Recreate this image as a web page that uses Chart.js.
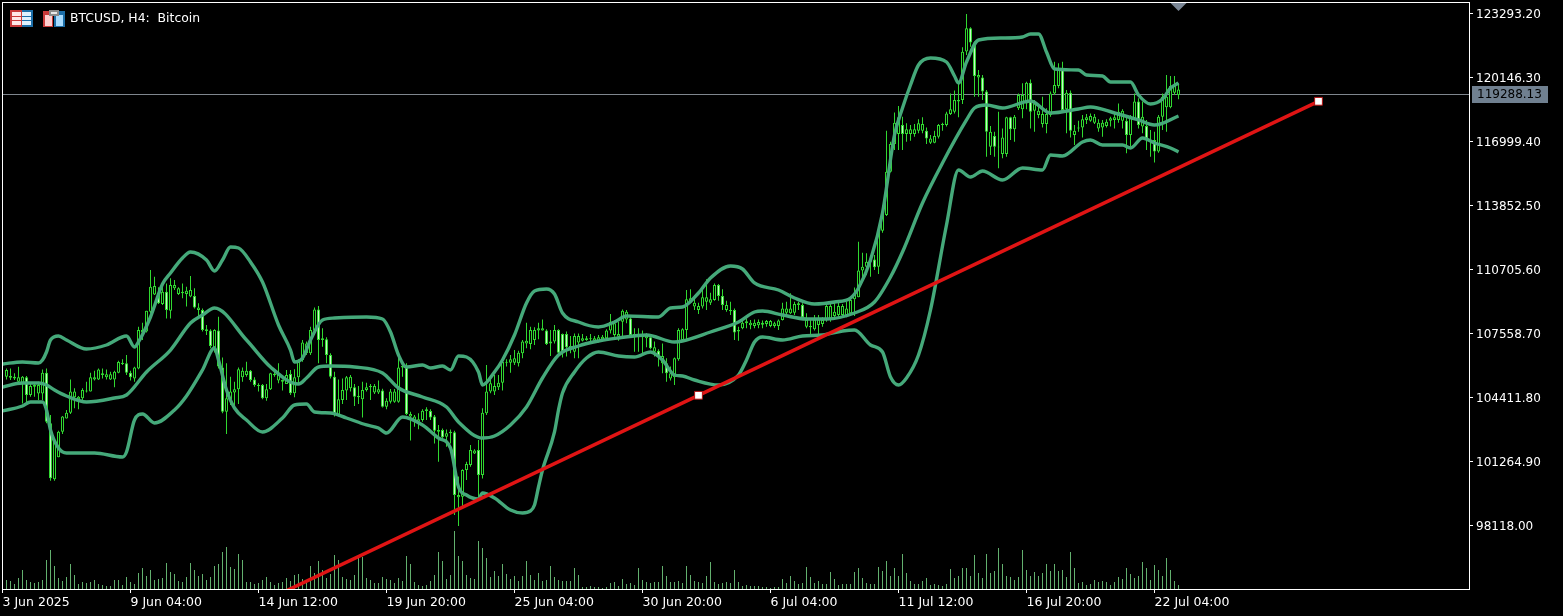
<!DOCTYPE html>
<html>
<head>
<meta charset="utf-8">
<title>BTCUSD, H4: Bitcoin</title>
<script src="https://cdn.jsdelivr.net/npm/chart.js@4"></script>
<style>html,body{margin:0;padding:0;background:#000;overflow:hidden}canvas{display:block}</style>
</head>
<body>
<canvas id="c" width="1563" height="616"></canvas>
<script>
const bodyHigh=[105740,105450,105410,105380,105410,105380,104950,105000,105000,105610,
105610,103120,102300,102710,103450,103640,104680,104680,104430,104760,
104730,105380,105380,105770,105580,105530,105530,105660,106140,106100,
106070,105610,105870,107710,107710,108660,109840,109870,109510,109590,
109590,109920,109920,109760,109590,109640,109680,109380,108820,108690,
107740,107680,107710,107680,105870,104350,104680,104790,105780,105710,
105710,105710,105280,105000,105000,104790,105580,105550,105550,105250,
105500,105550,105380,106230,107090,107050,107710,108720,108720,107300,
107250,106480,105410,104300,104760,105380,105410,104890,104460,104760,
104890,104950,104950,104790,104730,104230,104680,104680,105870,105940,
105870,103580,103450,103320,103740,103810,103730,103450,102790,102790,
102630,102710,102680,99600,100830,101120,101810,101780,101810,103640,
104680,105090,104950,105120,106150,106150,106270,106320,106590,107140,
107180,107710,107710,107790,107790,107680,107140,107710,107710,107510,
107510,106920,107410,107410,107300,107300,107300,107300,107350,107380,
107680,108120,108040,107510,108660,108610,108280,107510,107510,107460,
107410,107350,106860,106690,106430,106070,105580,106320,107710,107740,
109220,109270,109050,108890,109320,109320,109220,109920,109920,109380,
108940,108690,108690,107710,108070,108140,108070,108070,108100,108070,
108150,108150,108040,108170,108770,108770,108770,108990,109020,108940,
108200,107910,108230,108230,108200,108890,108890,108610,108890,108890,
108770,109180,109500,110630,110820,111070,111230,111180,112590,113410,
115490,116850,117900,118170,117790,117580,117580,117580,117870,117840,
117510,117130,117250,117790,117840,118360,118560,119020,119020,121390,
122540,122540,121840,120250,120130,119430,117460,117250,116720,117180,
118170,118170,118200,119260,119260,119870,119870,118850,118490,118330,
118330,119340,119750,120570,120520,119380,119380,117510,117670,118070,
118170,118230,118200,117900,117900,117950,118120,118170,118440,118490,
118000,118170,118940,118940,118200,117740,117050,117050,118200,119180,
119180,119710,119710,119540];
const bodyLow=[105410,105365,105330,105170,105090,104510,104510,104920,104590,104590,
103200,100415,100370,101450,102710,103360,103640,104400,104300,104350,
104680,104680,105280,105280,105500,105380,105280,105280,105610,106040,
105610,105380,105330,105820,107580,107630,108610,109460,109020,108990,
108690,108660,109760,109480,109510,109480,109350,108820,108690,107710,
107660,106920,106860,105910,103690,103690,104300,104630,104790,105380,
105500,105250,105000,104950,104350,104350,104790,105480,105220,105170,
105050,104600,104600,105380,106230,106560,106560,107680,107220,107220,
106480,105410,103530,103530,104270,104730,104840,104430,104400,104300,
104760,104890,104630,104630,103940,103940,104180,104180,104180,105870,
103580,103450,103200,103200,103280,103730,103410,102760,102710,102430,
102460,102630,99600,99480,99510,100830,101070,101640,100580,100580,
103610,104680,104680,104890,105120,106100,106100,106100,106070,106560,
107050,107020,107220,107680,107680,107020,107050,107140,106590,106640,
106860,106760,106640,107090,107180,107220,107250,107180,107135,107250,
107300,107680,107460,107380,108120,108230,107460,107350,107350,107350,
107300,106810,106640,106400,106070,105580,105330,105380,106270,107220,
107710,109050,108860,108690,108860,109100,109050,109180,109380,108940,
108690,108630,107580,107630,107790,108040,107940,107910,107940,107970,
108000,107910,107910,107910,108200,108560,108530,108560,108940,108330,
107870,107840,107740,107950,108000,108200,108230,108400,108450,108450,
108450,108530,109220,109320,110630,110820,111070,110790,110820,112590,
113360,115490,116850,117350,117350,117350,117350,117350,117510,117510,
117130,116920,116920,117210,117790,117790,118330,118440,118940,119020,
121400,121840,120200,120130,119430,117460,116720,116720,116690,116360,
116360,117580,117580,118610,118560,118850,118440,118490,118280,117840,
117840,118280,119340,119710,118530,118560,117510,117300,117620,117670,
118040,118000,117900,117620,117670,117740,118000,118040,118040,118000,
117300,117300,118120,117790,117710,117130,117020,116480,116480,118200,
118660,118660,119380,119260];
const high=[105820,105820,105580,105900,105450,105450,105090,105090,105170,105770,
105820,103530,102330,102760,103480,103770,105280,104840,104460,104840,
105170,105610,105710,105820,105820,105770,105660,105710,106200,106270,
106480,105710,105900,107870,108070,108660,110660,110330,109810,109920,
110000,110250,110170,109810,110000,109840,110360,109760,109020,108770,
107950,107740,107740,108360,106360,106070,105410,105170,105870,105870,
106150,105740,105380,105090,105050,105050,105610,105660,106070,105280,
105740,105740,105780,106270,107220,107140,107870,108820,108890,107790,
107350,106560,105660,105280,105330,105450,105500,105050,104950,105170,
105120,105050,105050,105220,104820,104350,104810,104810,106430,105990,
106070,103690,103530,103610,103810,103910,103810,103530,103040,102870,
102820,102820,102760,100500,100860,101230,102050,101840,102300,103860,
105990,105500,105500,105500,106230,106270,106480,106730,106690,107220,
108070,107870,107840,108070,108230,107740,107710,107950,107740,107540,
107630,107410,107540,107540,107510,107410,107510,107410,107460,107460,
107740,108500,108170,108120,108720,108690,108330,107790,107790,107680,
107550,107410,107140,106760,107050,106320,105910,106360,107790,107790,
109680,109710,109430,109050,109810,110200,109540,110000,109970,109710,
109150,109100,108770,107870,108170,108280,108200,108230,108230,108170,
108200,108200,108120,108230,109050,109100,109510,109100,109100,109020,
108530,108200,108450,108450,108330,108990,109100,109100,109100,108990,
109100,109270,109800,112050,111510,111480,111400,111400,112630,113770,
117510,116970,118400,118720,118200,117870,117790,117840,118070,118170,
117670,117300,117510,117840,117900,118440,119340,119480,119840,121610,
123250,122590,121890,120490,120250,119510,117740,117460,118440,117620,
118200,118200,118280,119340,119840,119920,120030,119020,118690,119180,
118610,119430,120900,120820,120900,119510,119480,117790,118000,118280,
118330,118360,118330,118070,118040,118070,118200,118360,118850,118560,
118200,118280,119340,119100,118940,118030,117540,117460,118280,119340,
120250,120200,120200,119840];
const low=[105280,105250,105250,105090,104100,104100,104430,104430,104270,104270,
103120,100300,100300,101450,102590,103360,103580,103860,103810,104270,
104630,104680,105220,105250,105330,105280,105250,104890,105580,105990,
105500,105220,105170,105780,107220,107580,108530,109430,108990,108940,
108280,108280,109680,109430,109270,108860,109320,108770,108360,107630,
107460,106810,106600,105820,103610,102600,104020,103940,104070,105170,
105410,105170,104920,104680,104300,104230,104760,105410,105090,104730,
105050,104510,104400,105050,106150,106480,106480,107630,106070,106890,
106070,105330,103450,103450,104070,104270,104680,103970,104070,103410,
104680,104270,104560,104560,103900,103810,104100,104130,104130,105410,
103530,102270,102950,102830,103200,103280,103280,102130,101230,102270,
101970,102130,98610,98070,99020,100330,100990,101610,99430,100410,
103530,104600,104510,104760,104730,105910,105610,105990,105910,106320,
106810,106760,106970,107250,107680,106970,106430,107050,106530,106360,
106400,106560,106320,106320,107140,107180,107050,107090,107090,107140,
107220,107540,107380,107180,107380,108040,107410,106640,106640,106560,
106860,106760,106400,105910,105580,105170,105220,105000,106200,107140,
107220,109020,108690,108500,108770,108690,108940,109150,109150,108690,
108610,108450,107220,107180,107740,107790,107740,107790,107790,107790,
107870,107840,107820,107710,108170,108500,108500,108450,108690,108280,
107790,107460,107680,107460,107870,108120,108120,108280,108360,108360,
108330,108400,108400,109320,110250,110410,110330,110660,110460,112490,
113310,115450,116560,116560,116560,116970,117020,117210,117380,117380,
116850,116850,116890,117130,117510,117710,118280,118360,118170,118820,
121230,121640,119180,119180,119020,116230,116310,116230,115660,116150,
116230,117050,116970,118530,118120,118560,117620,117460,118120,117670,
117380,118200,119260,119590,118440,117380,117180,116800,117460,117180,
117840,117950,117840,117460,117210,117670,117710,117620,117900,117620,
116400,116720,118030,117620,117380,116560,116230,115940,116430,117540,
117460,118610,119260,119050];
const downBars=[5,10,11,30,31,38,40,47,49,51,53,54,61,62,64,71,78,80,81,82,87,94,100,106,107,109,112,118,135,138,139,140,156,161,163,165,178,179,182,199,217,224,230,241,242,244,245,247,251,256,264,266,280,283,285,287];
const volumes=[9,8,5,11,19,9,7,6,7,9,
29,39,23,11,8,12,25,14,5,7,
6,7,9,5,4,3,3,9,9,4,
12,7,5,16,21,13,19,9,10,11,
26,17,15,8,7,12,26,19,13,15,
9,12,23,25,37,42,22,20,35,29,
7,7,5,6,9,12,7,4,6,7,
11,8,14,15,10,8,23,16,28,19,
11,15,34,29,12,10,9,14,32,32,
11,9,6,6,12,10,9,6,11,8,
33,25,7,4,3,4,8,14,37,28,
10,14,58,33,28,14,11,10,48,41,
31,12,18,13,25,15,10,13,8,13,
28,14,9,16,8,9,23,12,9,8,
8,8,21,14,2,2,3,2,2,1,
2,6,7,3,10,5,6,4,21,9,
7,6,7,7,23,13,7,7,8,6,
23,14,8,7,6,13,27,7,5,6,
7,6,19,7,3,4,3,3,3,2,
2,1,2,2,10,6,13,8,5,6,
22,12,6,8,5,5,17,10,4,5,
5,5,17,21,11,6,5,5,22,18,
28,13,21,13,35,16,8,5,5,8,
11,4,5,4,3,5,20,11,13,21,
21,13,34,16,11,35,16,18,41,25,
13,12,9,12,39,19,13,17,13,16,
25,18,25,18,19,12,37,21,6,7,
4,5,9,7,8,7,4,7,12,10,
21,15,11,13,27,21,9,24,19,13,
31,19,8,4];
const upperIdx=[-1,4,8,9,10,11,13,15,20,25,30,32,33,36,39,41,44,46,50,52,54,56,58,61,64,68,71,72,74,76,79,82,90,94,96,98,100,104,106,109,111,113,115,118,119,122,124,127,130,132,135,137,139,143,148,152,155,163,166,169,173,176,181,184,187,193,197,202,207,211,213,216,219,222,224,226,228,231,235,237,238,240,243,249,254,256,258,260,262,268,270,274,276,281,283,286,289,291,293];
const upperBand=[106037,106136,106087,106234,106627,107217,107414,107217,106775,106971,107414,106873,107119,108348,109971,110512,111249,111544,111151,110610,111151,111790,111741,111053,110069,107955,106725,106136,106332,107217,108201,108299,108348,108250,107611,106480,105890,105988,105841,105939,105742,106431,106381,105643,105005,105643,106234,107463,109036,109626,109725,109479,108545,108102,107857,108102,108397,108348,108791,108840,109528,110266,110856,110708,110020,109676,109282,108987,109085,109282,109774,111151,113462,117297,118625,119756,120739,121083,120886,120198,119854,120886,121968,122067,122116,122263,122263,121378,120542,120493,120247,120198,119903,119903,119264,118821,119067,119608,119854];
const middleIdx=[-1,4,8,10,12,15,20,27,30,35,41,46,49,52,60,66,73,75,78,81,87,94,98,104,110,113,119,122,126,130,134,138,143,148,153,160,167,169,176,183,187,189,194,200,205,212,217,221,224,229,234,240,242,245,249,256,261,268,271,277,283,287,293];
const middleBand=[104906,105103,105103,105005,104759,104464,104169,104366,104513,105643,106725,108053,108447,108791,107217,105890,105053,105349,105890,105939,105890,105594,104857,104415,103923,103186,102399,102497,103038,103923,105349,106480,106922,107168,107316,107463,107119,107168,107611,108102,108594,108643,108447,108250,108250,108545,109085,110315,111544,113954,115920,118035,118625,118772,118625,118969,118379,118576,118674,118379,118035,117789,118231];
const lowerIdx=[-1,4,6,9,10,11,13,15,22,29,30,32,34,37,42,45,49,52,53,55,57,60,64,69,72,75,77,81,85,90,93,95,99,104,108,111,113,115,118,119,122,126,129,131,132,133,134,137,138,139,142,145,148,153,157,161,164,167,169,172,178,183,185,187,189,194,199,204,209,212,216,219,221,223,225,228,231,235,238,241,244,249,254,259,261,264,269,271,274,279,281,284,287,291,293];
const lowerBand=[103727,103973,104169,104169,103775,102792,101907,101661,101661,101464,101710,103284,103579,103136,103775,104464,105742,106824,106234,104759,103874,103284,102694,103382,104021,104070,103677,103628,103382,103038,102890,102644,103431,103038,102399,101907,99989,99596,99399,99694,99448,98858,98711,98810,99104,99989,100825,102694,103775,104611,105643,106332,106627,106431,106381,106627,106234,105496,105447,105250,105005,105496,106234,107119,107365,107217,107414,107463,107660,107709,106971,106627,105398,105005,105349,106480,108692,112872,115576,115232,115527,115084,115674,115576,116314,116265,116953,117051,116805,116805,116658,117149,116904,116658,116461];
const trendIdx=[70,173,328];
const trendPrice=[94892,104498,118954];
const lastPrice=119288.13;
const lastBar=293;
const priceTicks=[123293.20,120146.30,116999.40,113852.50,110705.60,107558.70,104411.80,101264.90,98118.00];
const timeTickIdx=[-1,31,63,95,127,159,191,223,255,287];
const timeTickLabels=["3 Jun 2025","9 Jun 04:00","14 Jun 12:00","19 Jun 20:00","25 Jun 04:00","30 Jun 20:00","6 Jul 04:00","11 Jul 12:00","16 Jul 20:00","22 Jul 04:00"];
const titleText="BTCUSD, H4:  Bitcoin";

const FONT='"DejaVu Sans"';
const CANDLE='#30d830';
const pts=(xs,ys)=>xs.map((x,i)=>({x,y:ys[i]}));
const downSet=new Set(downBars);
const band=(xs,ys)=>({type:'line',data:pts(xs,ys),borderColor:'#45a97a',borderWidth:3.4,pointRadius:0,
  cubicInterpolationMode:'monotone',borderJoinStyle:'round',order:2,yAxisID:'y',xAxisID:'x'});

const frame={id:'frame',
  afterDraw(ch){
    const c=ch.ctx,xs=ch.scales.x,ys=ch.scales.y;
    c.save();
    // triangle marker of the last bar
    const tx=xs.getPixelForValue(lastBar);
    c.fillStyle='#7b8796';
    c.beginPath();c.moveTo(tx-8,3);c.lineTo(tx+8,3);c.lineTo(tx,11);c.closePath();c.fill();
    // frame
    c.strokeStyle='#fff';c.lineWidth=1;
    c.strokeRect(2.5,2.5,1467,587);
    // last price tag
    const py=ys.getPixelForValue(lastPrice);
    c.fillStyle='#708090';
    c.fillRect(1472,Math.floor(py)-8,76,17);
    c.fillStyle='#000';c.font='12px '+FONT;c.textAlign='left';c.textBaseline='middle';
    c.fillText(lastPrice.toFixed(2),1477,py+0.5);
    // title
    c.fillStyle='#fff';
    c.font='12.4px '+FONT;
    c.fillText(titleText,70,19);
    // left icon
    c.fillStyle='#c83a3a';c.fillRect(10,10,12,17);
    c.fillStyle='#1c6ea8';c.fillRect(22,10,11,17);
    c.fillStyle='#ffe6e6';c.fillRect(12,12,9,13);
    c.fillStyle='#dff1ff';c.fillRect(22,12,9,13);
    c.fillStyle='#c83a3a';c.fillRect(12,16,9,1);c.fillRect(12,20,9,1);
    c.fillStyle='#1c6ea8';c.fillRect(22,16,9,1);c.fillRect(22,20,9,1);
    // right icon
    c.fillStyle='#c83a3a';c.fillRect(43,11,10,16);
    c.fillStyle='#1c6ea8';c.fillRect(54,11,11,16);
    c.fillStyle='#ffd0d0';c.fillRect(45,15,7,11);
    c.fillStyle='#a8dcff';c.fillRect(56,15,7,11);
    c.fillStyle='#8a8a8a';c.fillRect(49,10,10,6);
    c.fillStyle='#e8e8e8';c.fillRect(51,12,6,2);
    c.restore();
  }};

new Chart(document.getElementById('c'),{
  type:'bar',
  data:{datasets:[
    {type:'line',data:pts([-2,367],[lastPrice,lastPrice]),borderColor:'#7f868e',borderWidth:1,pointRadius:0,order:7,yAxisID:'y',xAxisID:'x'},
    {label:'wick',data:high.map((h,i)=>({x:i,y:[low[i],h]})),backgroundColor:CANDLE,borderWidth:0,inflateAmount:0,barThickness:1,grouped:false,order:6,yAxisID:'y',xAxisID:'x'},
    {label:'body',data:bodyHigh.map((h,i)=>({x:i,y:[bodyLow[i],h]})),
      backgroundColor:bodyHigh.map((h,i)=>downSet.has(i)?'#c8f8c8':'#000'),
      borderColor:CANDLE,borderWidth:1,borderSkipped:false,inflateAmount:0,barThickness:3,grouped:false,order:5,yAxisID:'y',xAxisID:'x'},
    {label:'volume',data:volumes.map((v,i)=>({x:i,y:v})),backgroundColor:'#62b06e',borderWidth:0,inflateAmount:0,barThickness:1,grouped:false,order:4,yAxisID:'vol',xAxisID:'x'},
    band(upperIdx,upperBand),
    band(middleIdx,middleBand),
    band(lowerIdx,lowerBand),
    {type:'line',data:pts(trendIdx,trendPrice),borderColor:'#e01414',borderWidth:3.5,
      pointRadius:[0,5.5,5.5],pointStyle:'rect',pointBackgroundColor:'#fff',pointBorderColor:'#b01010',pointBorderWidth:1,
      order:1,yAxisID:'y',xAxisID:'x'}
  ]},
  options:{
    responsive:false,animation:false,devicePixelRatio:1,
    layout:{autoPadding:false,padding:{left:3,top:3,right:0,bottom:0}},
    plugins:{legend:{display:false},tooltip:{enabled:false},title:{display:false}},
    events:[],
    scales:{
      x:{type:'linear',position:'bottom',offset:false,min:-0.875,max:365.625,
        grid:{offset:false,drawOnChartArea:false,color:'#fff',tickLength:4,tickColor:'#fff'},
        border:{display:false},
        afterBuildTicks(s){s.ticks=timeTickIdx.map(v=>({value:v}));},
        afterFit(s){s.height=27;s.paddingLeft=0;s.paddingRight=0;},
        ticks:{autoSkip:false,maxRotation:0,minRotation:0,align:'start',padding:2,color:'#fff',font:{family:FONT,size:12.5},
          callback:(v,i)=>timeTickLabels[i]}},
      y:{type:'linear',position:'right',min:94973.6,max:123787.4,
        grid:{drawOnChartArea:false,color:'#fff',tickLength:4,tickColor:'#fff'},
        border:{display:false},
        afterBuildTicks(s){s.ticks=priceTicks.map(v=>({value:v}));},
        afterFit(s){s.width=94;s.paddingTop=0;s.paddingBottom=0;},
        ticks:{autoSkip:false,crossAlign:'near',padding:3,labelOffset:2,color:'#fff',font:{family:FONT,size:12},
          callback:v=>v.toFixed(2)}},
      vol:{type:'linear',display:false,min:0,max:586}
    }
  },
  plugins:[frame]
});
</script>
</body>
</html>
